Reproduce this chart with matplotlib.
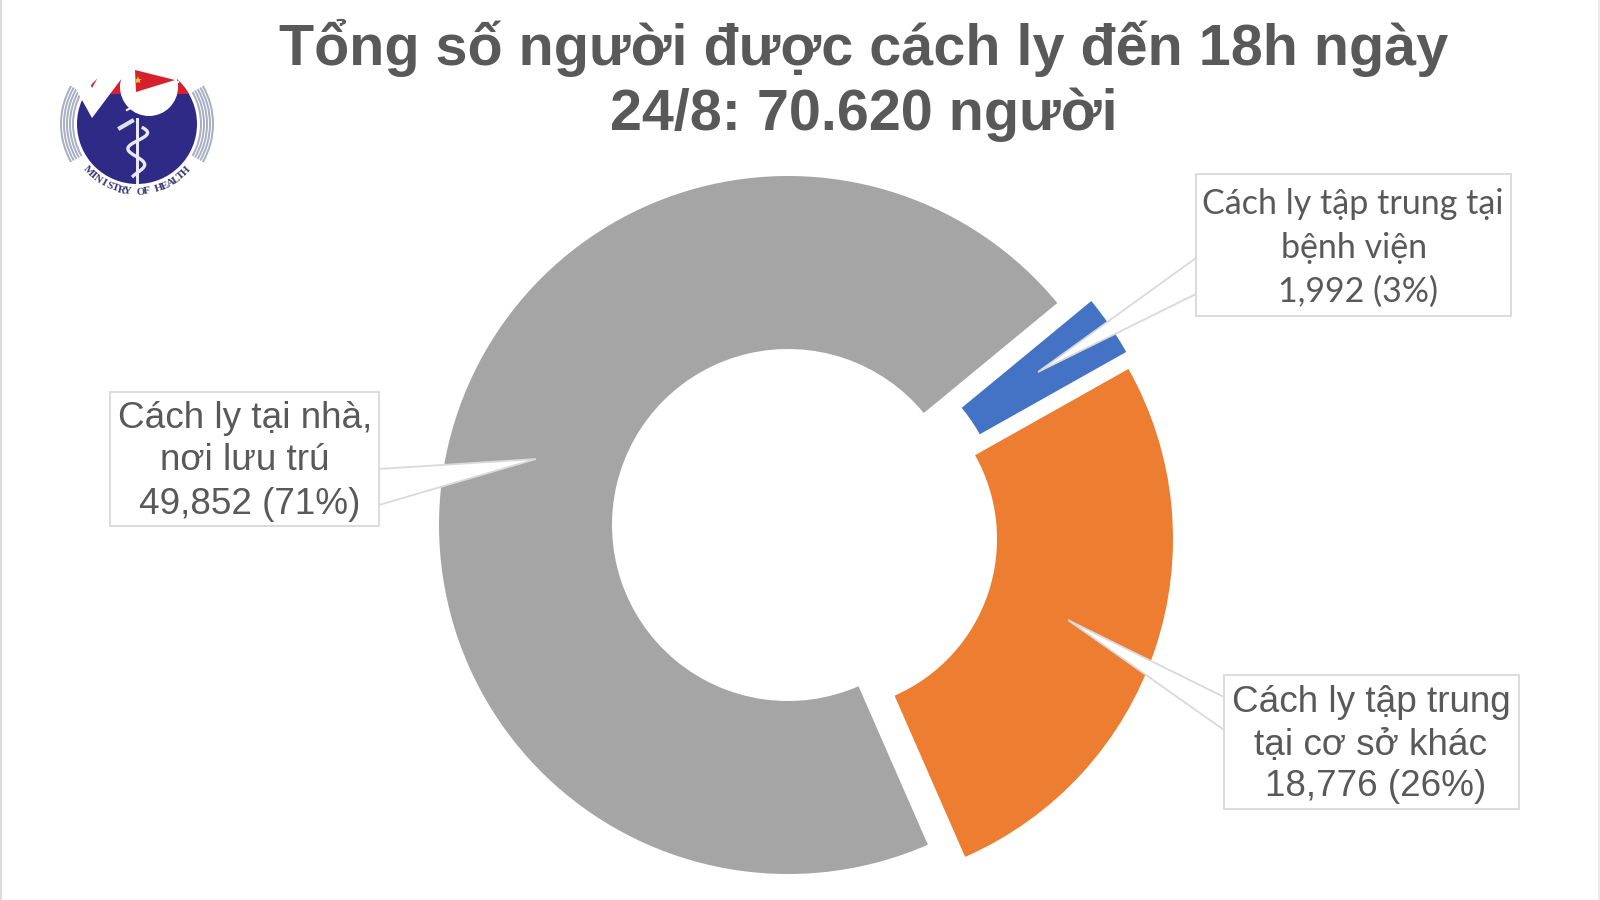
import numpy as np
import matplotlib
matplotlib.use('Agg')
import matplotlib.pyplot as plt
from matplotlib.patches import Circle, Wedge, Polygon, Rectangle

# values as printed on the chart
categories = ['Cách ly tập trung tại\nbệnh viện', 'Cách ly tập trung\ntại cơ sở khác', 'Cách ly tại nhà,\nnơi lưu trú']
counts = [1992, 18776, 49852]
percents = [3, 26, 71]
colors = ['#4472c4', '#ed7d31', '#a5a5a5']
title = 'Tổng số người được cách ly đến 18h ngày\n24/8: 70.620 người'

TEXT = '#595959'
ARIAL = 'Liberation Sans'
CALIBRI = ['Lato', 'Noto Sans', 'DejaVu Sans']

fig = plt.figure(figsize=(16, 9), dpi=100)
ax = fig.add_axes([0, 0, 1, 1])


def Y(y):
    # the layout below was measured from the top of the picture
    return 900 - y


# the slices run clockwise from the gray edge at about 39.5 degrees
wedges, _ = ax.pie(counts, colors=colors, startangle=39.5, counterclock=False, radius=349,
                   center=(788, Y(525)), wedgeprops={'width': 173, 'linewidth': 0}, frame=True)
# blue and orange are pulled out by hand, the blue one not along its middle
wedges[0].set_center((788 + 34, Y(525) + 2))
wedges[0].set_width(168)
wedges[1].set_center((788 + 38, Y(525) - 14))
wedges[1].set_radius(347)
wedges[1].set_width(176)

ax.set_xlim(0, 1600)
ax.set_ylim(0, 900)
ax.set_aspect('equal')
ax.axis('off')

for (cy, line) in zip([48, 115], title.split('\n')):
    ax.text(864, Y(cy), line, ha='center', va='center', fontsize=41.4, fontweight='bold',
            family=ARIAL, color=TEXT)


def callout(box, tail, tip, lines, centers, font, size):
    x0, y0, x1, y1 = box
    ax.add_patch(Polygon([(tail[0][0], Y(tail[0][1])), (tip[0], Y(tip[1])), (tail[1][0], Y(tail[1][1]))],
                         closed=True, fc='white', ec='#d9d9d9', lw=1.3, zorder=3))
    ax.add_patch(Rectangle((x0, Y(y1)), x1 - x0, y1 - y0, fc='white', ec='#d9d9d9', lw=1.3, zorder=4))
    for (cx, cy), line in zip(centers, lines):
        ax.text(cx, Y(cy), line, ha='center', va='center', fontsize=size, family=font, color=TEXT, zorder=5)


def lines_for(i):
    return categories[i].split('\n') + [f'{counts[i]:,} ({percents[i]}%)']


callout((1196, 174, 1511, 316), [(1196, 258), (1196, 294)], (1038, 372), lines_for(0),
        [(1353, 204), (1354, 248), (1358, 292)], CALIBRI, 24.5)
callout((1224, 675, 1519, 809), [(1224, 697), (1224, 730)], (1068, 620), lines_for(1),
        [(1371, 703), (1370, 745), (1376, 787)], ARIAL, 26.6)
callout((110, 392, 379, 526), [(379, 469), (379, 505)], (536, 459), lines_for(2),
        [(245, 419), (245, 461), (250, 504)], ARIAL, 26.6)

# ministry logo, top left
logo_x, logo_y = 137, 124
navy = '#2f2a86'
for r in [77, 74, 71, 68, 65]:
    for t1, t2 in [(150, 210), (-30, 30)]:
        ax.add_patch(Wedge((logo_x, Y(logo_y)), r, t1, t2, width=2, fc='#a9afc2', ec='none'))
disc = Circle((logo_x, Y(logo_y)), 60, fc=navy, ec='none')
ax.add_patch(disc)
band = Rectangle((logo_x - 60, Y(94)), 120, 19, fc='#d6202e', ec='none')
ax.add_patch(band)
band.set_clip_path(disc)
top = Rectangle((logo_x - 60, Y(75)), 120, 20, fc='white', ec='none')
ax.add_patch(top)
top.set_clip_path(disc)

# staff, snake and leaves
ax.add_patch(Rectangle((logo_x - 1.5, Y(184)), 3, 66, fc='#e8e8f2', ec='none'))
t = np.linspace(0, 3 * np.pi, 80)
ax.plot(logo_x + 11 * np.sin(t + 0.6) * (1 - t / 24), Y(128) - 48 * t / (3 * np.pi), color='#e8e8f2', lw=2.4)
ax.plot([120, 132], [Y(128), Y(121)], color='#dfe0ea', lw=3)

# lettering round the seal
word = 'MINISTRY OF HEALTH'
for i, ch in enumerate(word):
    a = np.deg2rad(-90 - (len(word) / 2 - i - 0.5) * 5.4)
    ax.text(logo_x + 68 * np.cos(a), Y(logo_y) + 68 * np.sin(a), ch, ha='center', va='center', fontsize=8,
            family='Liberation Serif', fontweight='bold', color='#3b3a78', rotation=np.rad2deg(a) + 90)

# white broadcaster mark laid over the seal
ax.add_patch(Polygon([(67, Y(73)), (92, Y(118)), (134, Y(62)), (110, Y(56)), (92, Y(88)), (84, Y(70))],
                     fc='white', ec='none', zorder=3))
ax.add_patch(Circle((149, Y(87)), 29, fc='white', ec='none', zorder=3))
ax.add_patch(Polygon([(135, Y(70)), (175, Y(80)), (136, Y(92))], fc='#d6202e', ec='none', zorder=4))
ax.plot([138], [Y(80)], marker='*', ms=6, color='#f2c531', mew=0, zorder=5)
ax.plot([127, 178], [Y(110), Y(82)], color='white', lw=1.5, zorder=5)

# thin lines seen at the left and right picture edges
ax.plot([0.5, 0.5], [0, 900], color='#dcdcdc', lw=1.5, zorder=6)
ax.plot([1599, 1599], [0, 900], color='#ececec', lw=1.5, zorder=6)

fig.savefig('out.png', dpi=100, facecolor='white')
